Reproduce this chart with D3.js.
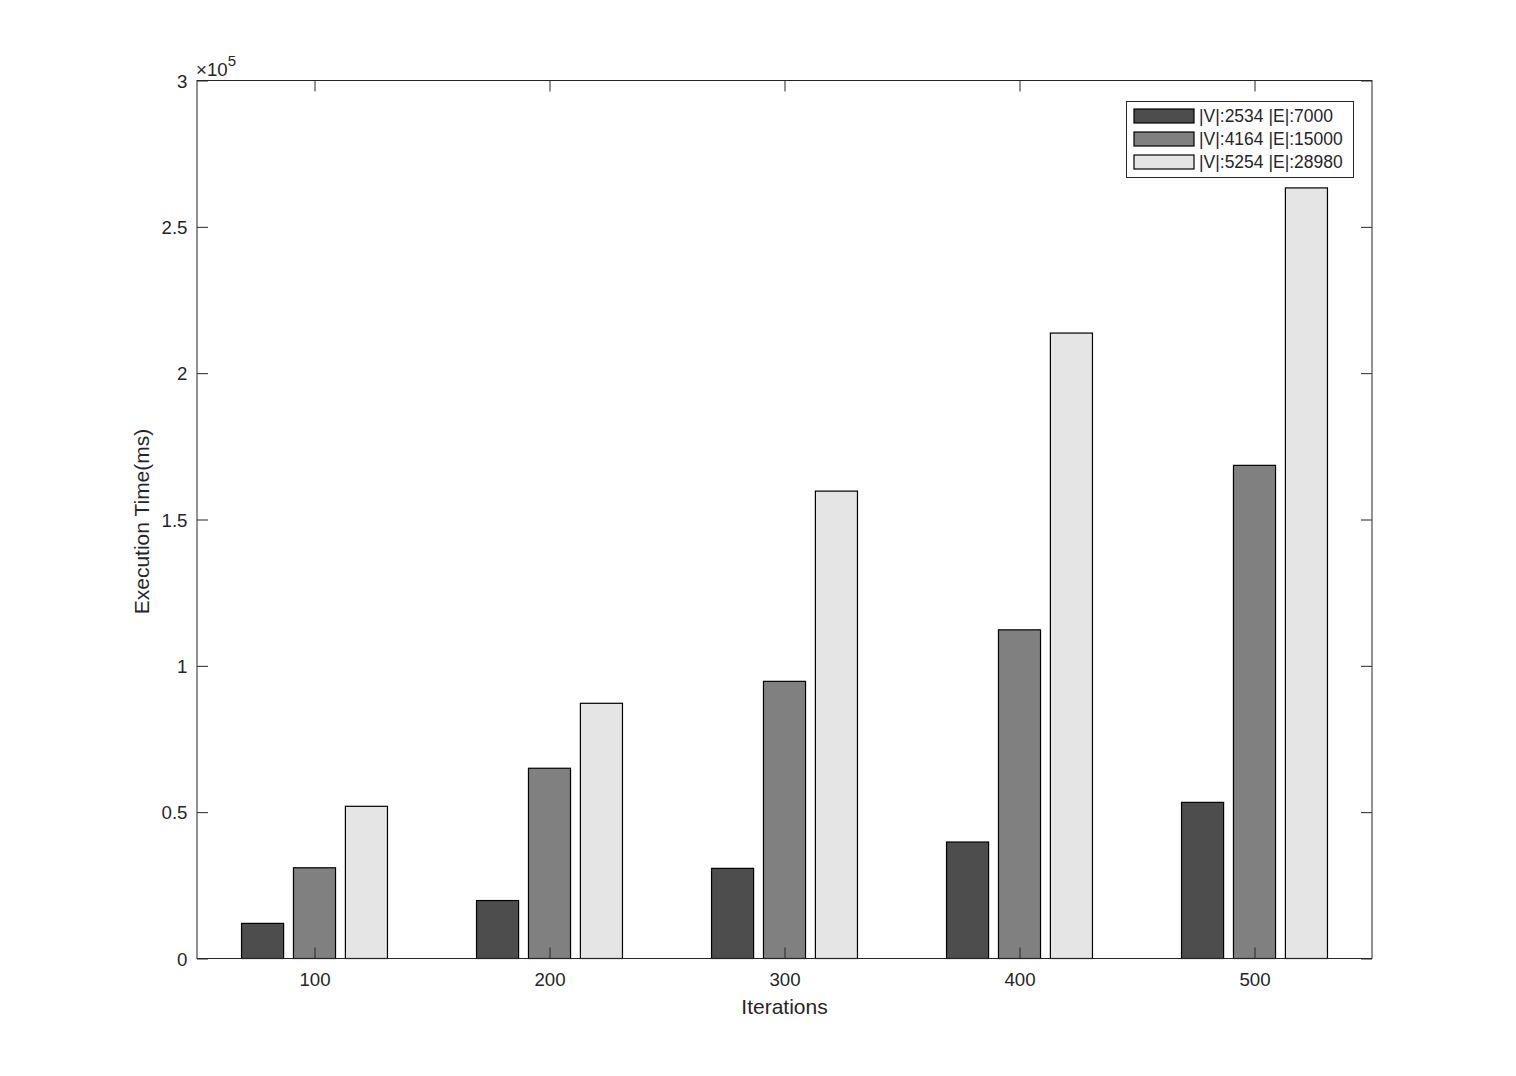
<!DOCTYPE html>
<html><head><meta charset="utf-8">
<script src="https://cdn.jsdelivr.net/npm/d3@7"></script>
<style>body{margin:0;background:#fff}text{font-family:"Liberation Sans",Arial,Helvetica,sans-serif;fill:#262626}</style>
</head><body><svg id="c" width="1516" height="1076"></svg>
<script>
const iterations = [100, 200, 300, 400, 500];
const seriesNames = ["|V|:2534 |E|:7000", "|V|:4164 |E|:15000", "|V|:5254 |E|:28980"];
const seriesA = [12000, 19800, 30800, 39800, 53350];
const seriesB = [31000, 65000, 94700, 112300, 168500];
const seriesC = [52000, 87200, 159700, 213700, 263300];
const seriesColors = ["#4d4d4d", "#808080", "#e5e5e5"];
const yTicks = [0, 50000, 100000, 150000, 200000, 250000, 300000];
const yTickLabels = ["0", "0.5", "1", "1.5", "2", "2.5", "3"];
const series = [seriesA, seriesB, seriesC];

const svg = d3.select("#c");
const L = 197, R = 1372, T = 80.5, B = 958.5;
const x = d3.scaleLinear().domain([50, 550]).range([L, R]);
const y = d3.scaleLinear().domain([0, 300000]).range([B, T]);
const barW = 17.9, step = 22.1;
const axCol = "#262626";

// bars
series.forEach((s, si) => {
  svg.append("g").selectAll("rect").data(s).join("rect")
    .attr("x", (d, i) => x(iterations[i] + (si - 1) * step - barW / 2))
    .attr("width", x(barW) - x(0))
    .attr("y", d => y(d))
    .attr("height", d => y(0) - y(d))
    .attr("fill", seriesColors[si])
    .attr("stroke", "#000").attr("stroke-width", 1.2);
});

// axes box
svg.append("rect").attr("x", L).attr("y", T).attr("width", R - L).attr("height", B - T)
  .attr("fill", "none").attr("stroke", axCol).attr("stroke-width", 1);

const fs = "18.7px";
const xb = svg.append("g").attr("transform", `translate(0,${B})`)
  .call(d3.axisBottom(x).tickValues(iterations).tickSize(-11).tickPadding(0).tickFormat(d3.format("d")));
const xt = svg.append("g").attr("transform", `translate(0,${T})`)
  .call(d3.axisTop(x).tickValues(iterations).tickSize(-11).tickFormat(""));
const yl = svg.append("g").attr("transform", `translate(${L},0)`)
  .call(d3.axisLeft(y).tickValues(yTicks).tickSize(-11).tickPadding(0).tickFormat((d, i) => yTickLabels[i]));
const yr = svg.append("g").attr("transform", `translate(${R},0)`)
  .call(d3.axisRight(y).tickValues(yTicks).tickSize(-11).tickFormat(""));
[xb, xt, yl, yr].forEach(g => {
  g.select(".domain").remove();
  g.selectAll(".tick line").attr("stroke", axCol);
  g.selectAll(".tick text").style("font-size", fs).attr("fill", axCol);
});
xb.selectAll(".tick text").attr("dy", null).attr("y", 27.5);
yl.selectAll(".tick text").attr("x", -9.5).attr("dy", "0.35em");

// exponent
svg.append("text").attr("x", 196).attr("y", 76).style("font-size", "18.7px")
  .html('×10<tspan dy="-10" style="font-size:15px">5</tspan>');

// axis labels
svg.append("text").attr("x", (L + R) / 2).attr("y", 1014).attr("text-anchor", "middle")
  .style("font-size", "21px").text("Iterations");
svg.append("text").attr("transform", `translate(149,${(T + B) / 2 + 2}) rotate(-90)`)
  .attr("text-anchor", "middle").style("font-size", "21px").text("Execution Time(ms)");

// legend
const lg = svg.append("g");
lg.append("rect").attr("x", 1126.5).attr("y", 101.5).attr("width", 227).attr("height", 76)
  .attr("fill", "#fff").attr("stroke", axCol).attr("stroke-width", 1);
seriesNames.forEach((n, i) => {
  const cy = 116 + i * 23;
  lg.append("rect").attr("x", 1134).attr("y", cy - 7).attr("width", 60).attr("height", 14)
    .attr("fill", seriesColors[i]).attr("stroke", "#000").attr("stroke-width", 1.2);
  lg.append("text").attr("x", 1199).attr("y", cy + 6).style("font-size", "17.5px").text(n);
});
</script></body></html>
